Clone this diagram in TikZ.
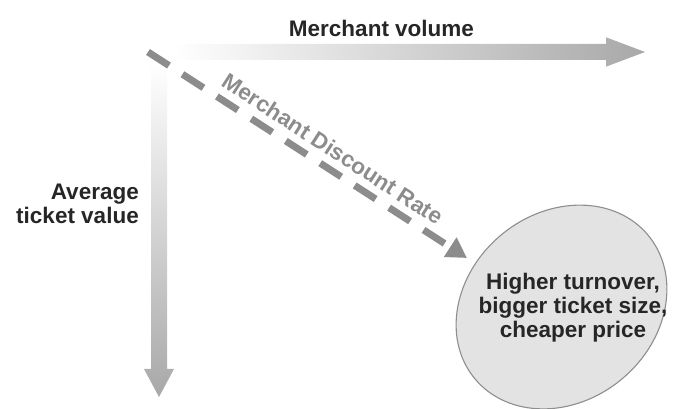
\documentclass[tikz,border=0pt]{standalone}
\usepackage{fontspec}
\setmainfont{Liberation Sans}
\usetikzlibrary{shapes.geometric,arrows.meta,calc}
\definecolor{axisgray}{HTML}{A8A8A8}
\definecolor{dashgray}{HTML}{8C8C8C}
\definecolor{ovalfill}{HTML}{E3E3E3}
\definecolor{ovaledge}{HTML}{8E8E8E}
\definecolor{inkdark}{HTML}{262626}
\begin{document}
\begin{tikzpicture}[x=1pt,y=1pt,
  labelfont/.style={font=\fontsize{22.5}{24}\selectfont\bfseries, inner sep=0pt},
  mdrline/.style={draw=dashgray, line width=7pt, dash pattern=on 25pt off 16pt,
    -{Triangle[length=20pt,width=22pt]}},
  oval/.style={ellipse, draw=ovaledge, line width=1.1pt, fill=ovalfill,
    minimum width=225pt, minimum height=188pt, inner sep=0pt},
]
\useasboundingbox (0,0) rectangle (674,409);

% horizontal axis: merchant volume
\coordinate (hbase) at (172,357);
\coordinate (htip) at (645,357);
\shade[left color=white, right color=axisgray]
  ($(hbase)+(0,8)$) -- ($(htip)+(-39,8)$) -- ($(htip)+(-39,14.7)$) -- (htip)
  -- ($(htip)+(-39,-14.7)$) -- ($(htip)+(-39,-8)$) -- ($(hbase)+(0,-8)$) -- cycle;

% vertical axis: average ticket value
\coordinate (vbase) at (159,346);
\coordinate (vtip) at (159,12);
\shade[top color=white, bottom color=axisgray]
  ($(vbase)+(-8,0)$) -- ($(vtip)+(-8,28)$) -- ($(vtip)+(-15,28)$) -- (vtip)
  -- ($(vtip)+(15,28)$) -- ($(vtip)+(8,28)$) -- ($(vbase)+(8,0)$) -- cycle;

% outcome oval
\node[oval, rotate=39.5] (outcome) at (561.5,102) {};
\node[labelfont, text=inkdark, align=center, anchor=north] (outcometext) at (573,136)
  {Higher turnover,\\bigger ticket size,\\cheaper price};

% merchant discount rate diagonal
\coordinate (mdrstart) at (148,357);
\coordinate (mdrend) at (467,151);
\draw[mdrline] (mdrstart) -- (mdrend);
\node[labelfont, text=dashgray, rotate=-32.9] (mdrlabel) at (333,260) {Merchant Discount Rate};

% axis labels
\node[labelfont, text=inkdark, anchor=base] (xlabel) at (381.5,372.3) {Merchant volume};
\node[labelfont, text=inkdark, align=right, anchor=north east] (ylabel) at (139,225.1)
  {Average\\ticket value};
\end{tikzpicture}
\end{document}
